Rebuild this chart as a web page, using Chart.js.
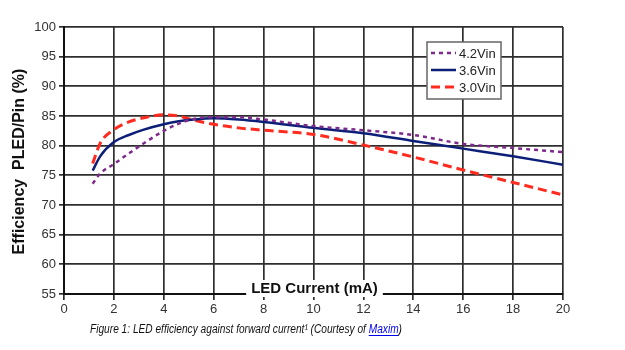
<!DOCTYPE html>
<html>
<head>
<meta charset="utf-8">
<script src="https://cdn.jsdelivr.net/npm/chart.js@4.4.0/dist/chart.umd.min.js"></script>
<style>
  html, body { margin: 0; padding: 0; background: #fff; }
  #wrap { width: 625px; height: 350px; }
</style>
</head>
<body>
<div id="wrap"><canvas id="effChart" width="625" height="350"></canvas></div>
<script>
// LED current (mA) sample points
var currentMa = [1.15, 1.45, 2, 2.6, 3.2, 4, 4.6, 5.2, 6, 7, 8, 10, 12, 14, 16, 18, 20];
// efficiency PLED/Pin (%) per input voltage
var eff42 = [73.6, 75.3, 76.9, 78.7, 80.4, 82.5, 83.7, 84.5, 84.8, 84.8, 84.4, 83.3, 82.6, 81.8, 80.3, 79.6, 78.9];
var eff36 = [75.8, 78.2, 80.6, 81.8, 82.7, 83.6, 84.1, 84.4, 84.6, 84.4, 84.0, 83.0, 82.1, 80.8, 79.5, 78.2, 76.8];
var eff30 = [77.0, 80.4, 82.7, 84.0, 84.7, 85.2, 85.0, 84.3, 83.6, 83.0, 82.6, 81.9, 80.1, 78.1, 75.9, 73.8, 71.7];
var seriesNames = ['4.2Vin', '3.6Vin', '3.0Vin'];
var xTicks = [0, 2, 4, 6, 8, 10, 12, 14, 16, 18, 20];
var yTicks = [55, 60, 65, 70, 75, 80, 85, 90, 95, 100];

function pts(ys) {
    return currentMa.map(function (x, i) { return {x: x, y: ys[i]}; });
}

var FONT = '"Liberation Sans", Arial, sans-serif';

var extras = {
    id: 'extras',
    afterDraw: function (chart) {
        var ctx = chart.ctx;
        var xs = chart.scales.x, ys = chart.scales.y;
        ctx.save();

        // x title sits inside the plot, on a white box
        ctx.font = 'bold 15px ' + FONT;
        var xt = 'LED Current (mA)';
        var cx = xs.getPixelForValue(10) + 1;
        var w = ctx.measureText(xt).width;
        ctx.fillStyle = '#fff';
        ctx.fillRect(cx - w / 2 - 5, 280, w + 10, 17);
        ctx.fillStyle = '#111';
        ctx.textAlign = 'center';
        ctx.textBaseline = 'alphabetic';
        ctx.fillText(xt, cx, 293);

        // y title
        ctx.save();
        ctx.font = 'bold 16px ' + FONT;
        ctx.translate(20, (ys.top + ys.bottom) / 2 + 1);
        ctx.rotate(-Math.PI / 2);
        ctx.textBaseline = 'middle';
        ctx.fillText('Efficiency  PLED/Pin (%)', 0, 0);
        ctx.restore();

        // legend box
        var lx = 427, ly = 42, lw = 74, lh = 57;
        ctx.fillStyle = '#fff';
        ctx.fillRect(lx, ly, lw, lh);
        ctx.strokeStyle = '#666';
        ctx.lineWidth = 1.5;
        ctx.strokeRect(lx, ly, lw, lh);
        ctx.font = '13px ' + FONT;
        ctx.textAlign = 'left';
        ctx.textBaseline = 'middle';
        chart.data.datasets.forEach(function (ds, i) {
            var yy = 53 + i * 17;
            ctx.beginPath();
            ctx.setLineDash(ds.borderDash || []);
            ctx.strokeStyle = ds.borderColor;
            ctx.lineWidth = ds.borderWidth;
            ctx.moveTo(431, yy);
            ctx.lineTo(456, yy);
            ctx.stroke();
            ctx.setLineDash([]);
            ctx.fillStyle = '#222';
            ctx.fillText(ds.label, 459, yy + 1);
        });

        // caption, narrow like the original
        ctx.font = 'italic 12px ' + FONT;
        ctx.textBaseline = 'alphabetic';
        var part1 = 'Figure 1: LED efficiency against forward current\u00b9 (Courtesy of ';
        var part2 = 'Maxim';
        var part3 = ')';
        var w1 = ctx.measureText(part1).width;
        var w2 = ctx.measureText(part2).width;
        var w3 = ctx.measureText(part3).width;
        var sc = 312 / (w1 + w2 + w3);
        ctx.save();
        ctx.translate(90, 0);
        ctx.scale(sc, 1);
        ctx.fillStyle = '#111';
        ctx.fillText(part1, 0, 333);
        ctx.fillStyle = '#0000ee';
        ctx.fillText(part2, w1, 333);
        ctx.fillRect(w1, 335, w2, 1);
        ctx.fillStyle = '#111';
        ctx.fillText(part3, w1 + w2, 333);
        ctx.restore();

        ctx.restore();
    }
};

var ctx = document.getElementById('effChart').getContext('2d');
new Chart(ctx, {
    type: 'line',
    data: {
        datasets: [
            {
                label: seriesNames[0],
                data: pts(eff42),
                borderColor: '#7d2a8c',
                borderWidth: 2.5,
                borderDash: [4, 4],
                pointRadius: 0,
                cubicInterpolationMode: 'monotone',
                fill: false
            },
            {
                label: seriesNames[1],
                data: pts(eff36),
                borderColor: '#0c1f78',
                borderWidth: 2.5,
                pointRadius: 0,
                cubicInterpolationMode: 'monotone',
                fill: false
            },
            {
                label: seriesNames[2],
                data: pts(eff30),
                borderColor: '#ff2b1f',
                borderWidth: 3,
                borderDash: [9, 5],
                pointRadius: 0,
                cubicInterpolationMode: 'monotone',
                fill: false
            }
        ]
    },
    options: {
        responsive: false,
        animation: false,
        layout: {padding: {left: 0, right: 62, top: 27, bottom: 32}},
        plugins: {
            legend: {display: false},
            tooltip: {enabled: false}
        },
        scales: {
            x: {
                type: 'linear',
                min: 0,
                max: 20,
                afterFit: function (axis) { axis.height = 24; },
                afterBuildTicks: function (axis) {
                    axis.ticks = xTicks.map(function (v) { return {value: v}; });
                },
                grid: {color: '#2e2e2e', lineWidth: 1.7, tickLength: 6, tickColor: '#2e2e2e'},
                border: {color: '#111', width: 2},
                ticks: {font: {family: FONT, size: 13}, color: '#333', padding: 2, maxRotation: 0}
            },
            y: {
                min: 55,
                max: 100,
                afterFit: function (axis) { axis.width = 64; },
                afterBuildTicks: function (axis) {
                    axis.ticks = yTicks.map(function (v) { return {value: v}; });
                },
                grid: {color: '#2e2e2e', lineWidth: 1.7, tickLength: 5, tickColor: '#2e2e2e'},
                border: {color: '#111', width: 2},
                ticks: {font: {family: FONT, size: 13}, color: '#333', padding: 3}
            }
        }
    },
    plugins: [extras]
});
</script>
</body>
</html>
